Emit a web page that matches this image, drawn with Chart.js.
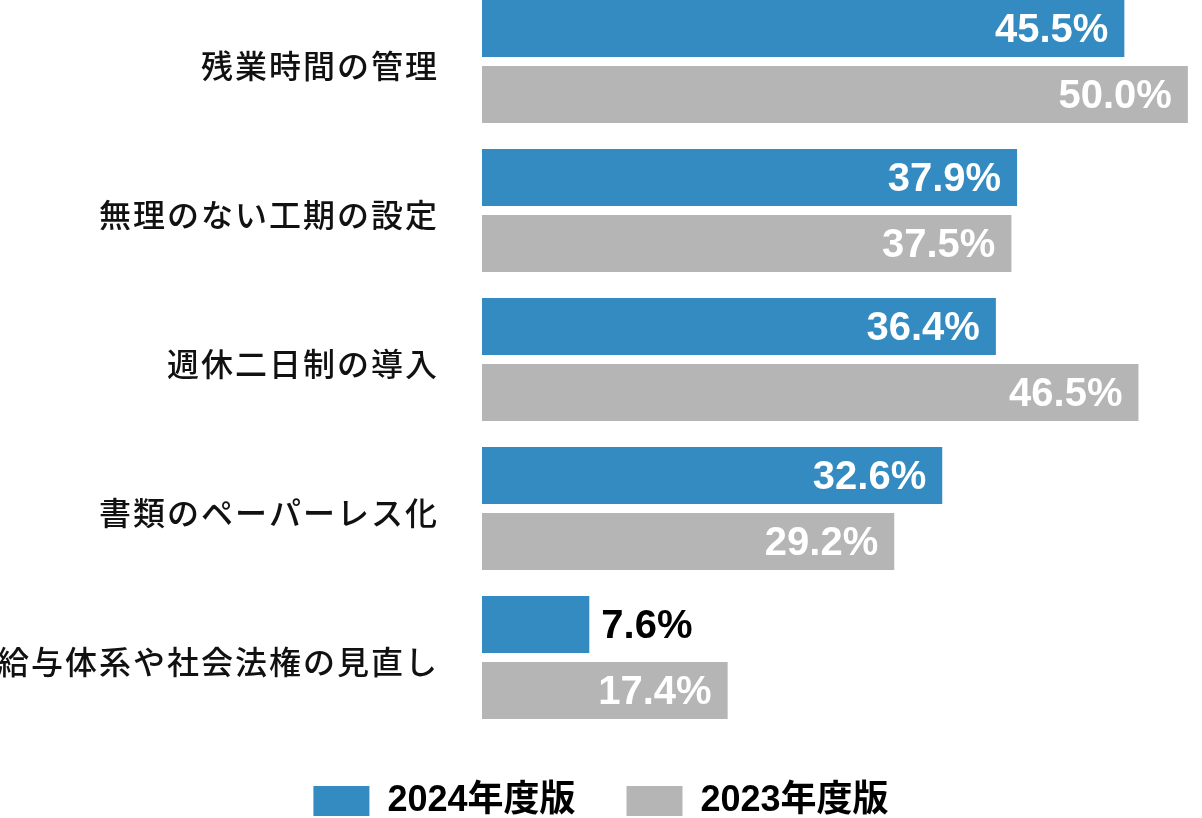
<!DOCTYPE html>
<html>
<head>
<meta charset="utf-8">
<script src="https://cdn.jsdelivr.net/npm/chart.js@4/dist/chart.umd.min.js"></script>
<style>
  html, body { margin: 0; padding: 0; background: #ffffff; overflow: hidden; }
  #wrap { position: absolute; left: 0; top: -13px; width: 1202px; height: 842px; }
</style>
</head>
<body>
<div id="wrap"><canvas id="c" width="1202" height="842"></canvas></div>
<script>
const categories = ['残業時間の管理', '無理のない工期の設定', '週休二日制の導入', '書類のペーパーレス化', '給与体系や社会法権の見直し'];
const seriesNames = ['2024年度版', '2023年度版'];
const values2024 = [45.5, 37.9, 36.4, 32.6, 7.6];
const values2023 = [50.0, 37.5, 46.5, 29.2, 17.4];
const seriesColors = ['#348bc1', '#b5b5b5'];

const valueLabels = {
  id: 'valueLabels',
  afterDatasetsDraw(chart) {
    const ctx = chart.ctx;
    ctx.save();
    ctx.letterSpacing = '0px';
    ctx.font = 'bold 40px "Liberation Sans", Arial, sans-serif';
    ctx.textBaseline = 'middle';
    chart.data.datasets.forEach((ds, di) => {
      const meta = chart.getDatasetMeta(di);
      meta.data.forEach((bar, i) => {
        const text = ds.data[i].toFixed(1) + '%';
        const tw = ctx.measureText(text).width;
        const barW = bar.x - bar.base;
        if (tw + 28 > barW) {
          ctx.fillStyle = '#000000';
          ctx.textAlign = 'left';
          ctx.fillText(text, bar.x + 12, bar.y + 2);
        } else {
          ctx.fillStyle = '#ffffff';
          ctx.textAlign = 'right';
          ctx.fillText(text, bar.x - 16, bar.y + 2);
        }
      });
    });
    ctx.restore();
    // category labels (drawn after datasets, z:1) get wider letter spacing
    ctx.letterSpacing = '2px';
  },
  afterDraw(chart) {
    chart.ctx.letterSpacing = '0px';
  }
};

new Chart(document.getElementById('c'), {
  type: 'bar',
  data: {
    labels: categories,
    datasets: [
      { label: seriesNames[0], data: values2024, backgroundColor: seriesColors[0], borderWidth: 0 },
      { label: seriesNames[1], data: values2023, backgroundColor: seriesColors[1], borderWidth: 0 }
    ]
  },
  options: {
    indexAxis: 'y',
    responsive: false,
    animation: false,
    devicePixelRatio: 1,
    categoryPercentage: 0.886,
    barPercentage: 0.864,
    layout: { padding: { top: 0, right: 0, bottom: 0, left: 0 } },
    scales: {
      x: { display: false, min: 0, max: 51, grid: { display: false } },
      y: {
        grid: { display: false, drawTicks: false },
        border: { display: false },
        ticks: {
          z: 1,
          color: '#111111',
          padding: 43,
          labelOffset: 4,
          font: { family: '"Noto Sans CJK JP", sans-serif', size: 32, weight: '500' }
        },
        afterFit(scale) {
          scale.width = 482;
          scale.paddingTop = 0;
          scale.paddingBottom = 0;
        }
      }
    },
    plugins: {
      legend: {
        position: 'bottom',
        labels: {
          boxWidth: 56,
          boxHeight: 30,
          padding: 51,
          color: '#000000',
          font: { family: '"Liberation Sans", "Noto Sans CJK JP", sans-serif', size: 36, weight: 'bold' }
        }
      },
      tooltip: { enabled: false }
    }
  },
  plugins: [valueLabels]
});
</script>
</body>
</html>
